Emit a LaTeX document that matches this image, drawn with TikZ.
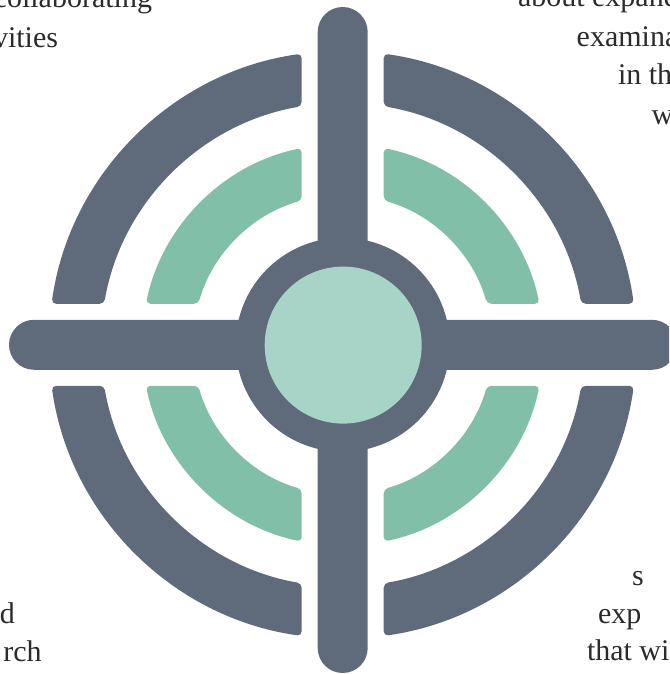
\documentclass[tikz,border=0pt]{standalone}
\usepackage{fontspec}
\setmainfont{Liberation Serif}
\definecolor{slate}{HTML}{5F6B7B}
\definecolor{mint}{HTML}{82BFA9}
\definecolor{pale}{HTML}{A8D3C7}
\definecolor{ink}{HTML}{2B2B2B}
\tikzset{
  arcpiece/.style={rounded corners=4.5pt},
  barshape/.style={fill=slate, rounded corners=25pt},
  frag/.style={inner sep=0pt, outer sep=0pt, text=ink, font=\fontsize{30pt}{38pt}\selectfont}
}
\begin{document}
\begin{tikzpicture}[x=1pt,y=1pt]
\useasboundingbox (-342.7,-329.2) rectangle (326.3,344.8);
\clip (-342.7,-329.2) rectangle (326.3,344.8);
% text fragments
\node[frag, anchor=base east] (t1) at (-190.7,336.8) {collaborating};
\node[frag, anchor=base east] (t2) at (-284.7,296.8) {vities};
\node[frag, anchor=base west] (t3) at (175.3,337.8) {about expand};
\node[frag, anchor=base west] (t4) at (234.0,298.1) {examina};
\node[frag, anchor=base west] (t5) at (275.3,259.8) {in th};
\node[frag, anchor=base west] (t6) at (309.0,219.8) {w};
\node[frag, anchor=base east] (t7) at (-327.7,-278.2) {d};
\node[frag, anchor=base east] (t8) at (-301.0,-316.9) {rch};
\node[frag, anchor=base west] (t9) at (289.3,-240.2) {s};
\node[frag, anchor=base west] (t10) at (255.3,-278.2) {exp};
\node[frag, anchor=base west] (t11) at (244.3,-315.2) {that wi};
% arc pieces
\foreach \r in {0,90,180,270}{
  \begin{scope}[rotate=\r]
    \fill[slate, arcpiece] (41,264.8) -- (41,291.13)
      arc[start angle=81.98, end angle=8.02, radius=294] -- (238.50,41)
      arc[start angle=9.75, end angle=80.25, radius=242] -- cycle;
    \fill[mint, arcpiece] (41,170.5) -- (41,196.77)
      arc[start angle=78.23, end angle=11.77, radius=201] -- (144.29,41)
      arc[start angle=15.86, end angle=74.14, radius=150] -- cycle;
  \end{scope}
}
% cross bars
\fill[barshape] (-25,-328.2) rectangle (25,337.8);
\fill[barshape] (-333.7,-25) rectangle (334.3,25);
% centre
\fill[slate] (0,0) circle (107);
\fill[pale] (0.5,-0.3) circle (78.5);
\end{tikzpicture}
\end{document}
